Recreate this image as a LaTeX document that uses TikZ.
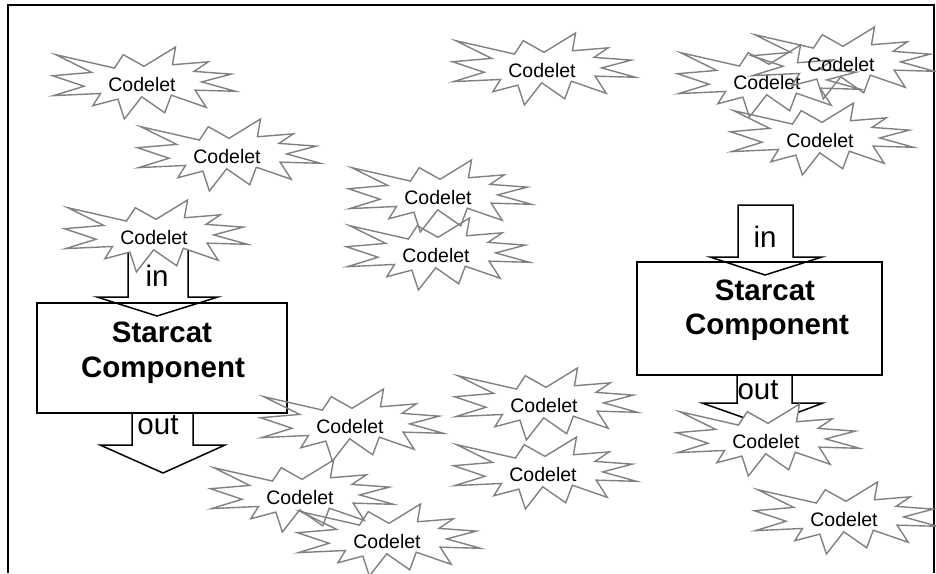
\documentclass[tikz,border=0pt]{standalone}
\usepackage{fontspec}
\setmainfont{Liberation Sans}
\tikzset{
  sealline/.style={draw=black!50, line width=1.4pt, line join=miter, miter limit=12},
  codetext/.style={inner sep=0pt, font=\fontsize{19.5}{21}\selectfont},
  bigtext/.style={inner sep=0pt, font=\fontsize{29.5}{32}\selectfont},
  boldtext/.style={inner sep=0pt, font=\fontsize{29.5}{32}\selectfont\bfseries},
  blk/.style={draw=black, line width=1.5pt, line join=miter},
}
\newcommand\codelet[4][]{%
  \begin{scope}[shift={(#3-91.5,#4-36)}, x=0.8472pt, y=-0.3333pt]
    \draw[sealline,#1] (108,58) -- (145.22,0) -- (141.55,53.25) -- (183.80,44.57)
      -- (167.02,73.15) -- (210.97,81.37) -- (176.07,104.75) -- (216,132.90)
      -- (168.37,129.42) -- (181.45,180.95) -- (140.20,144.57) -- (132.47,197.37)
      -- (105.32,149.35) -- (84.85,216) -- (77.15,156.27) -- (47.62,176.17)
      -- (56.67,139.37) -- (1.35,145.87) -- (37.22,117.75) -- (0,86.15)
      -- (46.27,76.17) -- (3.70,22.95) -- (73.12,63.20) -- (83.52,22.95) -- cycle;
  \end{scope}
  \node[codetext] (#2) at (#3-2,#4+2) {Codelet};
}
\begin{document}
\begin{tikzpicture}[x=1pt,y=-1pt]
\useasboundingbox (0,0) rectangle (936,573);
% frame
\draw[line width=1.6pt] (8,573) -- (8,5) -- (934,5) -- (934,573);

% left component
\draw[blk] (128,240) -- (128,297) -- (97,297) -- (157,316) -- (218,297) -- (188,297) -- (188,240);
\codelet[fill=white]{cI}{156}{236}
\node[draw=black, line width=1.5pt, minimum width=250pt, minimum height=110pt, inner sep=0pt] (compL) at (162,358) {};
\draw[blk] (132,413) -- (132,445) -- (100,445) -- (163,473) -- (225,445) -- (193,445) -- (193,413);
\node[bigtext] (inL) at (157,276) {in};
\node[boldtext] (stL) at (162,332) {Starcat};
\node[boldtext] (cpL) at (163,370) {Component};
\node[bigtext] (outL) at (158,425) {out};

% right component
\draw[blk] (738,205) -- (793,205) -- (793,257) -- (822,257) -- (765,275) -- (710,257) -- (738,257) -- cycle;
\node[draw=black, line width=1.5pt, minimum width=245pt, minimum height=113pt, inner sep=0pt] (compR) at (759.5,318.5) {};
\draw[blk] (737,375) -- (737,403) -- (702,403) -- (764.5,425) -- (823,403) -- (792,403) -- (792,375);
\node[bigtext] (inR) at (765,237) {in};
\node[boldtext] (stR) at (765,290) {Starcat};
\node[boldtext] (cpR) at (767,327) {Component};
\node[bigtext] (outR) at (758,390) {out};
\codelet[fill=white]{cJ}{768}{440}

% other codelets
\codelet{cA}{144}{83}
\codelet{cB}{229}{155}
\codelet{cC}{544}{69}
\codelet{cD}{769}{81}
\codelet{cE}{843}{63}
\codelet{cF}{822}{139}
\codelet{cG}{440}{196}
\codelet{cH}{438}{254}
\codelet{cK}{546}{404}
\codelet{cL}{545}{473}
\codelet{cM}{352}{425}
\codelet{cN}{302}{496}
\codelet{cO}{389}{540}
\codelet{cP}{846}{518}
\end{tikzpicture}
\end{document}
